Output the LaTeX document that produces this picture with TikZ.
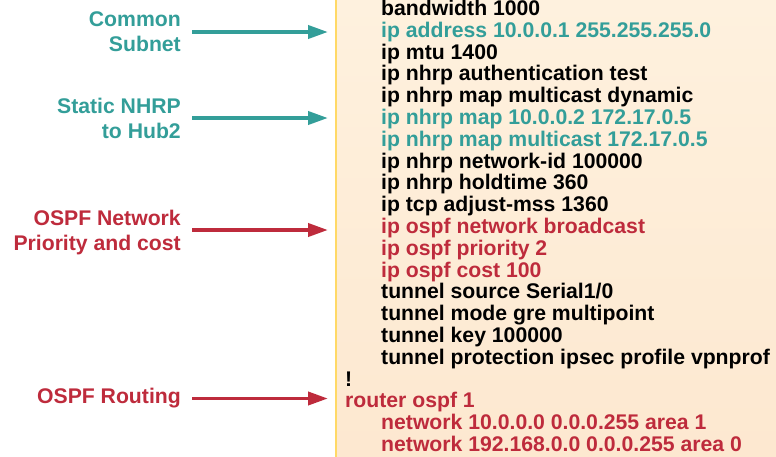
\documentclass[tikz,border=0pt]{standalone}
\usepackage{fontspec}
\setmainfont{Liberation Sans}
\usetikzlibrary{arrows.meta}
\definecolor{tealc}{HTML}{339E99}
\definecolor{redc}{HTML}{BE2B3C}
\definecolor{panelborder}{HTML}{FFD966}
\definecolor{paneltop}{HTML}{FEF1DE}
\definecolor{panelbot}{HTML}{FDE8D0}
\tikzset{
  codeline/.style={anchor=base west, inner sep=0pt, font=\fontsize{21.2}{22}\selectfont\bfseries},
  callout/.style={anchor=base east, inner sep=0pt, font=\fontsize{21.2}{25}\selectfont\bfseries},
  pointer/.style={line width=3.8pt, -{Triangle[length=20pt,width=13pt]}},
}
\begin{document}
\begin{tikzpicture}[x=1pt,y=-1pt]
\useasboundingbox (0,0) rectangle (776,456);
\fill[white] (0,0) rectangle (776,456);
% configuration panel
\shade[top color=paneltop, bottom color=panelbot] (336,0) rectangle (776,456);
\draw[panelborder, line width=2.5pt] (336,-2) -- (336,458);
% configuration text
\def\ind{381}
\def\sp{21.8}
\node[codeline] (c1) at (\ind,15.5) {bandwidth 1000};
\node[codeline, tealc] (c2) at (\ind,15.5+\sp) {ip address 10.0.0.1 255.255.255.0};
\node[codeline] (c3) at (\ind,15.5+2*\sp) {ip mtu 1400};
\node[codeline] (c4) at (\ind,15.5+3*\sp) {ip nhrp authentication test};
\node[codeline] (c5) at (\ind,15.5+4*\sp) {ip nhrp map multicast dynamic};
\node[codeline, tealc] (c6) at (\ind,15.5+5*\sp) {ip nhrp map 10.0.0.2 172.17.0.5};
\node[codeline, tealc] (c7) at (\ind,15.5+6*\sp) {ip nhrp map multicast 172.17.0.5};
\node[codeline] (c8) at (\ind,15.5+7*\sp) {ip nhrp network-id 100000};
\node[codeline] (c9) at (\ind,15.5+8*\sp) {ip nhrp holdtime 360};
\node[codeline] (c10) at (\ind,15.5+9*\sp) {ip tcp adjust-mss 1360};
\node[codeline, redc] (c11) at (\ind,15.5+10*\sp) {ip ospf network broadcast};
\node[codeline, redc] (c12) at (\ind,15.5+11*\sp) {ip ospf priority 2};
\node[codeline, redc] (c13) at (\ind,15.5+12*\sp) {ip ospf cost 100};
\node[codeline] (c14) at (\ind,15.5+13*\sp) {tunnel source Serial1/0};
\node[codeline] (c15) at (\ind,15.5+14*\sp) {tunnel mode gre multipoint};
\node[codeline] (c16) at (\ind,15.5+15*\sp) {tunnel key 100000};
\node[codeline] (c17) at (\ind,15.5+16*\sp) {tunnel protection ipsec profile vpnprof};
\node[codeline] (c18) at (345,15.5+17*\sp) {!};
\node[codeline, redc] (c19) at (345,15.5+18*\sp) {router ospf 1};
\node[codeline, redc] (c20) at (\ind,15.5+19*\sp) {network 10.0.0.0 0.0.0.255 area 1};
\node[codeline, redc] (c21) at (\ind,15.5+20*\sp) {network 192.168.0.0 0.0.0.255 area 0};
% callout labels
\node[callout, tealc] (l1a) at (181,26) {Common};
\node[callout, tealc] (l1b) at (181,51) {Subnet};
\node[callout, tealc] (l2a) at (181,113) {Static NHRP};
\node[callout, tealc] (l2b) at (181,138) {to Hub2};
\node[callout, redc] (l3a) at (181,225) {OSPF Network};
\node[callout, redc] (l3b) at (181,250) {Priority and cost};
\node[callout, redc] (l4) at (181,403) {OSPF Routing};
% pointer ends
\coordinate (p1s) at (192,32);   \coordinate (p1e) at (328,32);
\coordinate (p2s) at (192,118);  \coordinate (p2e) at (328,118);
\coordinate (p3s) at (192,230);  \coordinate (p3e) at (328,230);
\coordinate (p4s) at (192,398.5);\coordinate (p4e) at (328,398.5);
\draw[pointer, tealc] (p1s) -- (p1e);
\draw[pointer, tealc] (p2s) -- (p2e);
\draw[pointer, redc] (p3s) -- (p3e);
\draw[pointer, redc] (p4s) -- (p4e);
\end{tikzpicture}
\end{document}
